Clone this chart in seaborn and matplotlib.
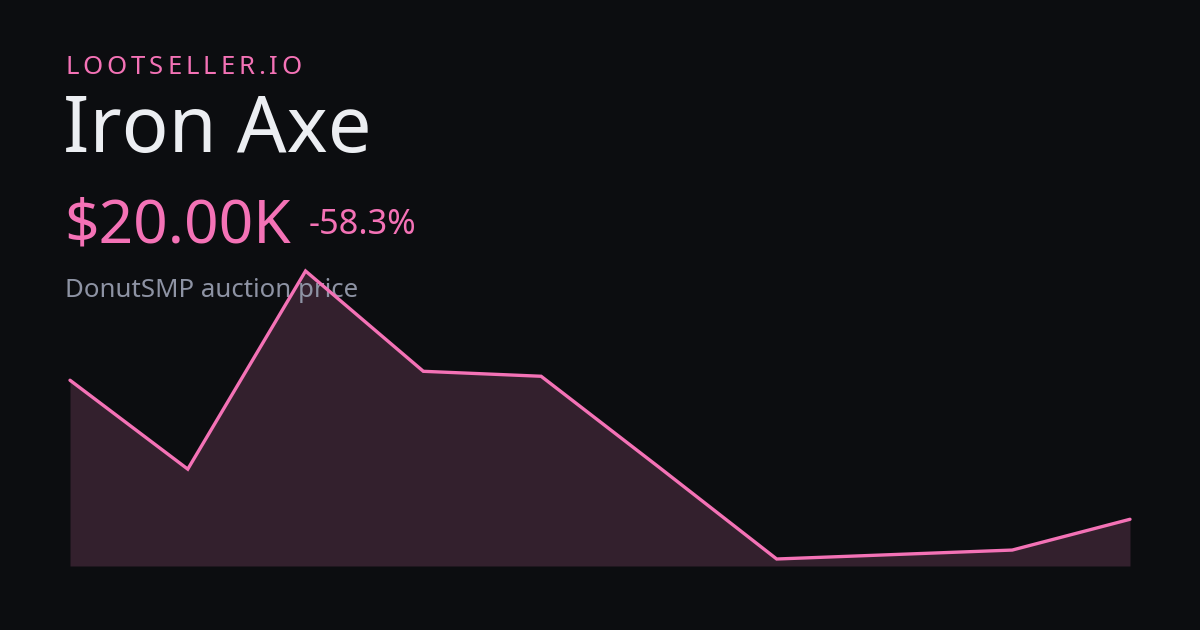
import matplotlib
matplotlib.use("Agg")
import matplotlib.pyplot as plt
import seaborn as sns
import pandas as pd

# dados do gráfico
brand = "LOOTSELLER.IO"
item_name = "Iron Axe"
price_label = "$20.00K"
change_label = "-58.3%"
subtitle = "DonutSMP auction price"
points = list(range(10))
prices_k = [48.0, 30.1, 70.0, 49.8, 48.8, 30.5, 12.0, 12.9, 13.8, 20.0]

BG = "#0c0d10"
PINK = "#f472b6"
FILL = "#33202d"
WHITE = "#eceef2"
GRAY = "#8e93a4"

W, H = 1200, 630
sns.set_theme(style="white")
plt.rcParams["font.family"] = ["Noto Sans", "DejaVu Sans"]

fig = plt.figure(figsize=(W / 100, H / 100), dpi=100, facecolor=BG)

# area do grafico em pixels: x 70..1130, y 250..566 (de cima)
top_px, bot_px = 250, 566
ax = fig.add_axes([70 / W, 1 - bot_px / H, 1060 / W, (bot_px - top_px) / H])
ax.set_facecolor("none")

# escala: maximo em y=271px, minimo em y=559px
hi, lo = max(prices_k), min(prices_k)
per_px = (hi - lo) / (559 - 271)
ax.set_ylim(lo - (bot_px - 559) * per_px, hi + (271 - top_px) * per_px)
ax.set_xlim(points[0], points[-1])

df = pd.DataFrame({"x": points, "price": prices_k})
base = ax.get_ylim()[0]
ax.fill_between(df["x"], df["price"], base, color=FILL, linewidth=0, zorder=1)
sns.lineplot(data=df, x="x", y="price", ax=ax, color=PINK, linewidth=2.4,
             zorder=4, clip_on=False, solid_capstyle="round", solid_joinstyle="miter")
ax.set_axis_off()


def px_text(x, y, s, size, color, **kw):
    # y = linha de base em pixels a partir do topo
    return ax.text(x / W, 1 - y / H, s, transform=fig.transFigure, fontsize=size,
                   color=color, va="baseline", ha="left", zorder=2, clip_on=False, **kw)


# marca com espacamento entre letras
fig.canvas.draw()
renderer = fig.canvas.get_renderer()
size_brand = 18.5
widths = []
for ch in brand:
    t = px_text(0, 0, ch, size_brand, PINK)
    widths.append(t.get_window_extent(renderer).width)
    t.remove()
spacing = (302 - 65 - sum(widths)) / (len(brand) - 1)
x = 65
for ch, w in zip(brand, widths):
    px_text(x, 74, ch, size_brand, PINK)
    x += w + spacing

px_text(63, 152, item_name, 56, WHITE)
px_text(64, 243, price_label, 43.5, PINK)
px_text(309, 234, change_label, 24.7, PINK)
px_text(65, 297, subtitle, 18.6, GRAY)

fig.savefig("out.png", dpi=100, facecolor=BG)
